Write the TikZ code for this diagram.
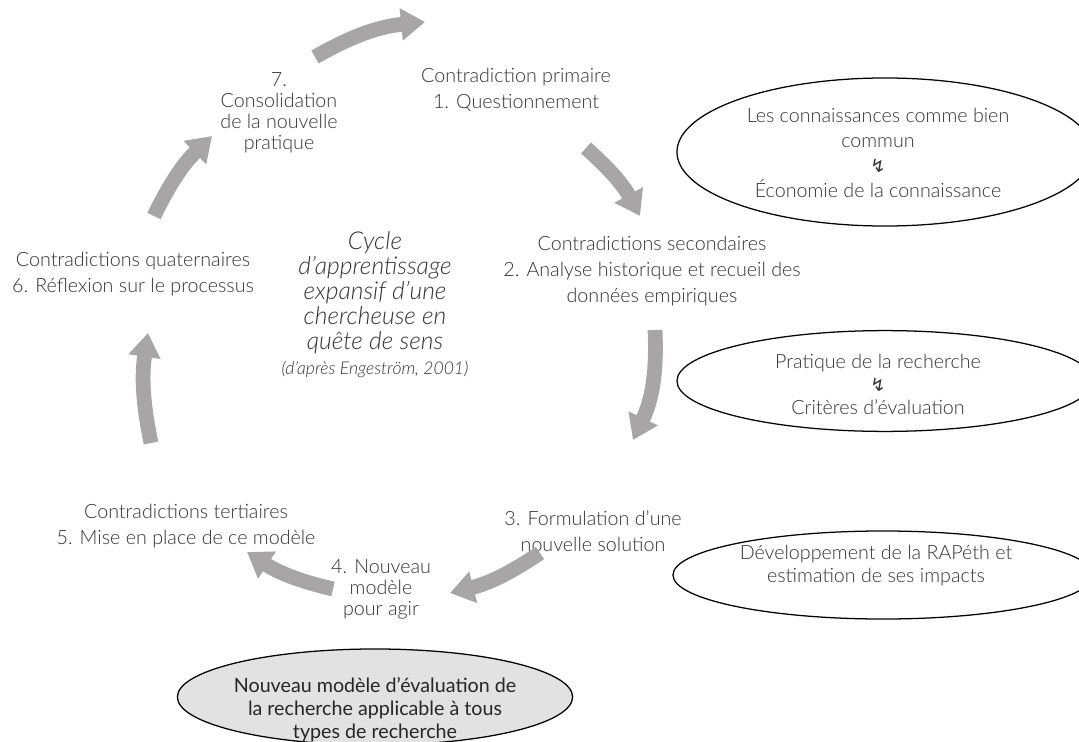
\documentclass[tikz,border=0pt]{standalone}
\usepackage{fontspec}
\setmainfont{Lato}[UprightFont=* Light,ItalicFont=* Light Italic]
\newfontfamily\regfont{Lato}
\newfontfamily\zigzagfont{DejaVu Sans}
\usetikzlibrary{arrows.meta,shapes.geometric}
\definecolor{txtgray}{HTML}{333333}
\definecolor{arrowgray}{HTML}{A7A5A5}
\definecolor{fillgray}{HTML}{E2E2E2}
\tikzset{
  lbl/.style={align=center,text=txtgray,font=\fontsize{14}{18.2}\selectfont},
  tightlbl/.style={align=center,text=txtgray,font=\fontsize{14}{15}\selectfont},
  bubble/.style={align=center,inner sep=0pt,text=txtgray,font=\fontsize{14}{16.4}\selectfont},
  rim/.style={draw,line width=0.9pt},
  cyclearrow/.style={draw=arrowgray,line width=10.5pt,
    -{Triangle[width=22pt,length=17pt]}}
}
\newcommand{\zz}{{\zigzagfont\fontsize{13}{13}\selectfont ↯}}
\begin{document}
\begin{tikzpicture}[x=0.025cm,y=-0.025cm]
  \useasboundingbox (0,0) rectangle (1079,742);
  % ellipses
  \filldraw[rim,fill=fillgray] (375,697) ellipse [x radius=4.94cm,y radius=1.2cm];
  \draw[rim] (885,152) ellipse [x radius=5.2cm,y radius=1.85cm];
  \draw[rim] (885,381) ellipse [x radius=5.2cm,y radius=1.26cm];
  \draw[rim] (883,575) ellipse [x radius=5.25cm,y radius=1.1cm];
  \node[bubble,font=\fontsize{14}{17.6}\selectfont] (e1) at (878,153)
    {Les connaissances comme bien\\commun\\\zz\\Économie de la connaissance};
  \node[bubble] (e2) at (878,384)
    {Pratique de la recherche\\\zz\\Critères d’évaluation};
  \node[bubble] (e3) at (876,566)
    {Développement de la RAPéth et\\estimation de ses impacts};
  \node[bubble,text=black!85,font=\regfont\fontsize{14}{16.4}\selectfont] (e4) at (375,710)
    {Nouveau modèle d’évaluation de\\la recherche applicable à tous\\types de recherche};
  % stages of the cycle
  \node[lbl] (s1) at (516,90) {Contradiction primaire\\1. Questionnement};
  \node[lbl] (s2) at (652,271) {Contradictions secondaires\\2. Analyse historique et recueil des\\données empiriques};
  \node[lbl] (s3) at (593,531) {3. Formulation d’une\\nouvelle solution};
  \node[tightlbl] (s4) at (381,589) {4. Nouveau\\modèle\\pour agir};
  \node[lbl] (s5) at (186,526) {Contradictions tertiaires\\5. Mise en place de ce modèle};
  \node[lbl] (s6) at (133,274) {Contradictions quaternaires\\6. Réflexion sur le processus};
  \node[tightlbl] (s7) at (279,113) {7.\\Consolidation\\de la nouvelle\\pratique};
  \node[align=center,text=txtgray,font=\fontsize{17.5}{17.8}\selectfont\itshape] (title) at (375,305)
    {Cycle\\d’apprentissage\\expansif d’une\\chercheuse en\\quête de sens\\{\fontsize{12.5}{14}\selectfont(d’après Engeström, 2001)}};
  % arrow ends
  \coordinate (a1s) at (315,57);  \coordinate (a1e) at (425,22);
  \coordinate (a2s) at (586,148); \coordinate (a2e) at (640,216);
  \coordinate (a3s) at (655,330); \coordinate (a3e) at (633,440);
  \coordinate (a4s) at (540,553); \coordinate (a4e) at (450,593);
  \coordinate (a5s) at (333,589); \coordinate (a5e) at (247,552);
  \coordinate (a6s) at (151,443); \coordinate (a6e) at (148,333);
  \coordinate (a7s) at (154,216); \coordinate (a7e) at (212,136);
  \begin{scope}[cyclearrow]
    \draw (a1s) to[bend left=12] (a1e);
    \draw (a2s) to[bend left=10] (a2e);
    \draw (a3s) to[bend left=14] (a3e);
    \draw (a4s) to[bend left=10] (a4e);
    \draw (a5s) to[bend left=10] (a5e);
    \draw (a6s) to[bend left=10] (a6e);
    \draw (a7s) to[bend left=10] (a7e);
  \end{scope}
\end{tikzpicture}
\end{document}
